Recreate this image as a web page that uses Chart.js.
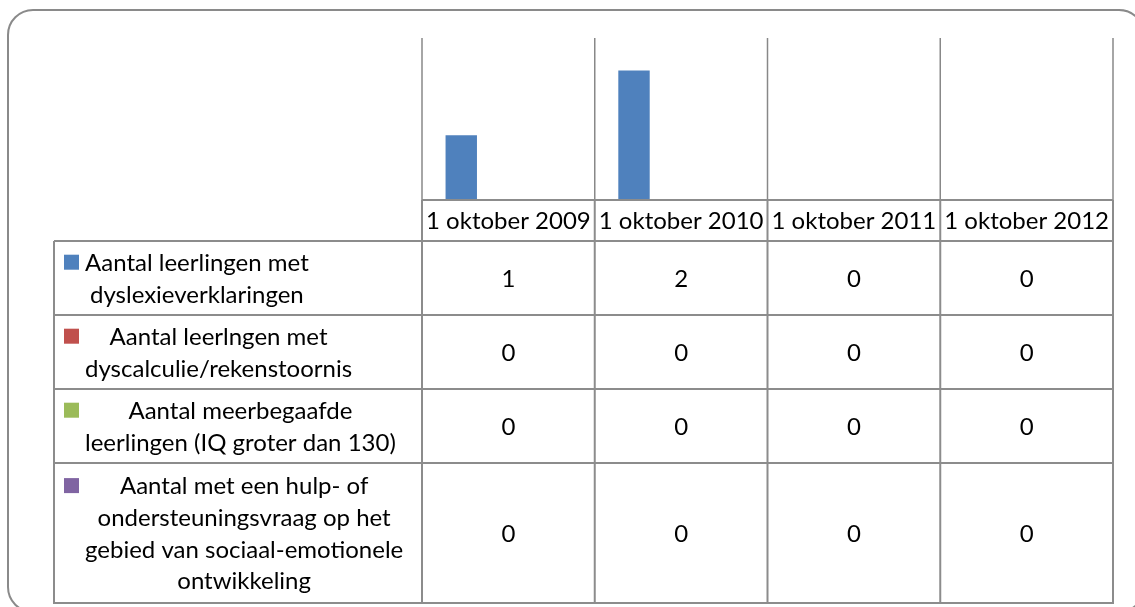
<!DOCTYPE html>
<html><head><meta charset="utf-8">
<script src="https://cdn.jsdelivr.net/npm/chart.js@4"></script>
<style>html,body{margin:0;padding:0;background:#fff;overflow:hidden}</style>
</head><body>
<canvas id="c" width="1135" height="607"></canvas>
<script>
// ---- data ----
const categories = ['1 oktober 2009', '1 oktober 2010', '1 oktober 2011', '1 oktober 2012'];
const seriesNames = [
  ['Aantal leerlingen met', 'dyslexieverklaringen'],
  ['Aantal leerlngen met', 'dyscalculie/rekenstoornis'],
  ['Aantal meerbegaafde', 'leerlingen (IQ groter dan 130)'],
  ['Aantal met een hulp- of', 'ondersteuningsvraag op het', 'gebied van sociaal-emotionele', 'ontwikkeling']
];
const dyslexie = [1, 2, 0, 0];
const dyscalculie = [0, 0, 0, 0];
const meerbegaafd = [0, 0, 0, 0];
const sociaalEmotioneel = [0, 0, 0, 0];
const seriesValues = [dyslexie, dyscalculie, meerbegaafd, sociaalEmotioneel];
const seriesColors = ['#4F81BD', '#C0504D', '#9BBB59', '#8064A2'];

// ---- layout / style ----
const FONT_FAMILY = 'Lato, "Open Sans", sans-serif';
const FONT_SIZE = 24;
const LINE_H = 31.6;
const LINE_COLOR = '#8c8c8c';
const TABLE_LEFT = 54;
const HEADER_BOTTOM = 241;
const ROW_BOTTOMS = [315, 389, 463, 603];
const LABEL_LEFT = 85;
const SWATCH_X = 64;
const SWATCH = 15;

function colEdges(chart) {
  const x = chart.scales.x;
  const n = chart.data.labels.length;
  const half = (x.getPixelForValue(1) - x.getPixelForValue(0)) / 2;
  const e = [];
  for (let i = 0; i < n; i++) e.push(x.getPixelForValue(i) - half);
  e.push(x.getPixelForValue(n - 1) + half);
  return e;
}

const tablePlugin = {
  id: 'dataTable',
  beforeDraw(chart) {
    const ctx = chart.ctx;
    ctx.save();
    ctx.fillStyle = '#fff';
    ctx.fillRect(0, 0, chart.width, chart.height);
    ctx.strokeStyle = '#8a8a8a';
    ctx.lineWidth = 2;
    ctx.beginPath();
    ctx.roundRect(8, 10, 1136, 602, 25);
    ctx.stroke();
    ctx.restore();
  },
  beforeDatasetsDraw(chart) {
    const ctx = chart.ctx, a = chart.chartArea;
    const edges = colEdges(chart);
    ctx.save();
    ctx.strokeStyle = '#888';
    ctx.lineWidth = 1.5;
    edges.forEach(e => {
      ctx.beginPath();
      ctx.moveTo(e, a.top);
      ctx.lineTo(e, a.bottom);
      ctx.stroke();
    });
    ctx.restore();
  },
  afterDraw(chart) {
    const ctx = chart.ctx, a = chart.chartArea;
    const edges = colEdges(chart);
    const n = edges.length - 1;
    const right = edges[n];
    const top = a.bottom;
    ctx.save();
    ctx.strokeStyle = LINE_COLOR;
    ctx.lineWidth = 2;
    const hline = (y, x0, x1) => { ctx.beginPath(); ctx.moveTo(x0, y); ctx.lineTo(x1, y); ctx.stroke(); };
    const vline = (x, y0, y1) => { ctx.beginPath(); ctx.moveTo(x, y0); ctx.lineTo(x, y1); ctx.stroke(); };
    hline(top, edges[0], right);
    hline(HEADER_BOTTOM, TABLE_LEFT, right);
    ROW_BOTTOMS.forEach(y => hline(y, TABLE_LEFT - 1, right + 1));
    edges.forEach(e => vline(e, top, ROW_BOTTOMS[ROW_BOTTOMS.length - 1]));
    vline(TABLE_LEFT, HEADER_BOTTOM, ROW_BOTTOMS[ROW_BOTTOMS.length - 1]);

    ctx.fillStyle = '#000';
    ctx.font = FONT_SIZE + 'px ' + FONT_FAMILY;
    ctx.textBaseline = 'middle';
    ctx.textAlign = 'center';
    // header
    chart.data.labels.forEach((lab, i) => {
      ctx.fillText(lab, (edges[i] + edges[i + 1]) / 2, (top + HEADER_BOTTOM) / 2 + 1);
    });
    // rows
    chart.data.datasets.forEach((ds, r) => {
      const y0 = r === 0 ? HEADER_BOTTOM : ROW_BOTTOMS[r - 1];
      const y1 = ROW_BOTTOMS[r];
      const cy = (y0 + y1) / 2;
      ds.data.forEach((v, c) => {
        ctx.fillText(String(v), (edges[c] + edges[c + 1]) / 2, cy + 1);
      });
      const lines = ds.label;
      const maxW = Math.max(...lines.map(l => ctx.measureText(l).width));
      const firstY = cy - (lines.length - 1) * LINE_H / 2;
      lines.forEach((l, k) => {
        ctx.fillText(l, LABEL_LEFT + maxW / 2, firstY + k * LINE_H + 1);
      });
      ctx.fillStyle = ds.backgroundColor;
      ctx.fillRect(SWATCH_X, firstY - SWATCH / 2, SWATCH, SWATCH);
      ctx.fillStyle = '#000';
    });
    ctx.restore();
  }
};

new Chart(document.getElementById('c'), {
  type: 'bar',
  data: {
    labels: categories,
    datasets: seriesValues.map((vals, i) => ({
      label: seriesNames[i],
      data: vals,
      backgroundColor: seriesColors[i],
      borderWidth: 0,
      categoryPercentage: 4 / 5.5,
      barPercentage: 1
    }))
  },
  options: {
    responsive: false,
    animation: false,
    layout: { padding: { left: 422, right: 22, top: 38, bottom: 407 } },
    plugins: { legend: { display: false }, tooltip: { enabled: false }, title: { display: false } },
    scales: {
      x: { display: false },
      y: { display: false, min: 0, max: 2.5 }
    }
  },
  plugins: [tablePlugin]
});
</script>
</body></html>
